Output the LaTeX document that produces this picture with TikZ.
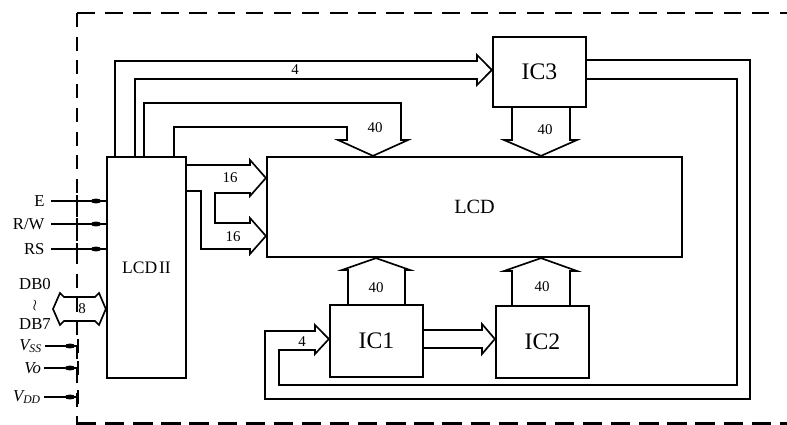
\documentclass[tikz,border=0pt]{standalone}
\usepackage{fontspec}
\setmainfont{Liberation Serif}
\usepackage{tikz}

\begin{document}
\begin{tikzpicture}[x=0.02cm,y=-0.02cm,
 chip/.style={draw,line width=1.3pt,inner sep=0pt},
 bus/.style={line width=0.95pt,line join=miter},
 num/.style={font=\fontsize{8.5}{9}\selectfont},
 pin/.style={font=\fontsize{9.5}{10}\selectfont,anchor=east,inner sep=3.5pt}]
 \useasboundingbox (0,0) rectangle (787,425);
 \draw[line width=0.9pt,dash pattern=on 10pt off 6pt] (77,13) -- (787,13);
 \draw[line width=0.9pt,dash pattern=on 8pt off 5.5pt] (77,13) -- (77,425);
 \draw[line width=2pt,dash pattern=on 11pt off 5pt] (77,424) -- (787,424);
 \node[chip,minimum width=1.58cm,minimum height=4.42cm,font=\fontsize{10}{11}\selectfont] (lcdii) at (146.5,267.5) {\raisebox{-5pt}{LCD\kern1pt II}};
 \node[chip,minimum width=8.3cm,minimum height=2cm,font=\fontsize{11.5}{13}\selectfont] (lcd) at (474.5,207) {LCD};
 \node[chip,minimum width=1.86cm,minimum height=1.4cm,font=\fontsize{13.5}{15}\selectfont] (ic3) at (539.5,72) {IC3};
 \node[chip,minimum width=1.86cm,minimum height=1.44cm,font=\fontsize{13.5}{15}\selectfont] (ic1) at (376.5,341) {IC1};
 \node[chip,minimum width=1.86cm,minimum height=1.44cm,font=\fontsize{13.5}{15}\selectfont] (ic2) at (542.5,342) {IC2};
 \draw[bus] (115,0 |- lcdii.north) -- (115,61) -- (477,61) -- (477,55) -- (ic3.west |- 0,70) -- (477,85) -- (477,79) -- (135,79) -- (135,0 |- lcdii.north);
 \node[num] at (295,70) {4};
 \draw[bus] (144,0 |- lcdii.north) -- (144,103) -- (401,103) -- (401,140) -- (408,140) -- (373,0 |- lcd.north) -- (338,140) -- (347,140) -- (347,127) -- (174,127) -- (174,0 |- lcdii.north);
 \node[num] at (375,128) {40};
 \draw[bus] (512,0 |- ic3.south) -- (512,140) -- (504,140) -- (541,0 |- lcd.north) -- (577,140) -- (570,140) -- (570,0 |- ic3.south);
 \node[num] at (545,130) {40};
 \draw[bus] (lcdii.east |- 0,165) -- (250,165) -- (250,160) -- (lcd.west |- 0,178) -- (250,196) -- (250,193) -- (215,193) -- (215,223) -- (250,223) -- (250,218) -- (lcd.west |- 0,236) -- (250,254) -- (250,249) -- (201,249) -- (201,191) -- (lcdii.east |- 0,191);
 \node[num] at (230,178) {16};
 \node[num] at (233,237) {16};
 \draw[bus] (348,0 |- ic1.north) -- (348,270) -- (342,270) -- (376,0 |- lcd.south) -- (410,270) -- (405,270) -- (405,0 |- ic1.north);
 \node[num] at (376,288) {40};
 \draw[bus] (512,0 |- ic2.north) -- (512,271) -- (504,271) -- (541,0 |- lcd.south) -- (577,271) -- (570,271) -- (570,0 |- ic2.north);
 \node[num] at (542,287) {40};
 \draw[bus] (ic1.east |- 0,330) -- (482,330) -- (482,324) -- (ic2.west |- 0,339) -- (482,354) -- (482,348) -- (ic1.east |- 0,348);
 \draw[bus] (ic3.east |- 0,60) -- (750,60) -- (750,399) -- (265,399) -- (265,331) -- (315,331) -- (315,325) -- (ic1.west |- 0,339) -- (315,354) -- (315,350) -- (279,350) -- (279,385) -- (737,385) -- (737,79) -- (ic3.east |- 0,79);
 \node[num] at (302,342) {4};
 \node[pin] (e) at (51,201) {E};
 \node[pin] (rw) at (51,224) {R/W};
 \node[pin] (rs) at (51,249) {RS};
 \foreach \p in {e,rw,rs} {
  \draw[line width=0.8pt] (\p.east) -- (\p.east -| lcdii.west);
  \fill (96,0 |- \p.east) ellipse [x radius=3pt,y radius=1.4pt];
  \draw[line width=0.8pt] (77,0 |- \p.east) ++(0,-6) -- ++(0,12);
 }
 \node[font=\fontsize{9.5}{11.3}\selectfont,inner sep=0pt,align=center] (db) at (35,304) {DB0\\$\wr$\\DB7};
 \draw[bus] (53,309) -- (60,293) -- (64,297) -- (95,297) -- (99,293) -- (lcdii.west |- 0,309) -- (99,325) -- (95,321) -- (64,321) -- (60,325) -- cycle;
 \node[num] at (82,309) {8};
 \node[pin,inner sep=1.5pt] (vss) at (45,346) {\textit{V\textsubscript{SS}}};
 \node[pin,inner sep=1.5pt] (vo) at (44,368) {\textit{Vo}};
 \node[pin,inner sep=1.5pt] (vdd) at (44,397) {\textit{V\textsubscript{DD}}};
 \foreach \p in {vss,vo,vdd} {
  \draw[line width=0.8pt] (\p.east) -- (78,0 |- \p.east);
  \fill (70,0 |- \p.east) ellipse [x radius=3pt,y radius=1.4pt];
  \draw[line width=0.8pt] (78,0 |- \p.east) ++(0,-7) -- ++(0,14);
 }
\end{tikzpicture}
\end{document}
